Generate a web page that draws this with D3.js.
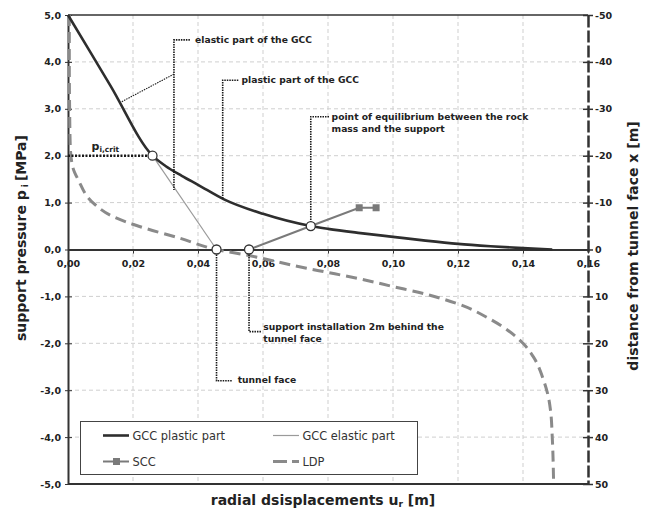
<!DOCTYPE html>
<html>
<head>
<meta charset="utf-8">
<script src="https://cdn.jsdelivr.net/npm/d3@7"></script>
<style>
  html, body { margin: 0; padding: 0; background: #fff; }
  svg { display: block; font-family: "DejaVu Sans", Verdana, sans-serif; }
</style>
</head>
<body>
<div id="chart"></div>
<script>
// GCC / SCC / LDP — convergence-confinement plot
const X_TICKS = [0, 0.02, 0.04, 0.06, 0.08, 0.10, 0.12, 0.14, 0.16];
const Y_TICKS = [5, 4, 3, 2, 1, 0, -1, -2, -3, -4, -5];
const Y2_TICKS = [-50, -40, -30, -20, -10, 0, 10, 20, 30, 40, 50];

// ground characteristic curve (thick): radial displacement [m] vs support pressure [MPa]
const gccPlasticU = [0, 0.013, 0.026, 0.030, 0.035, 0.040, 0.048, 0.060, 0.0747, 0.080, 0.090, 0.100, 0.110, 0.120, 0.130, 0.140, 0.149];
const gccPlasticP = [5.0, 3.5, 2.0, 1.78, 1.57, 1.38, 1.07, 0.76, 0.50, 0.44, 0.35, 0.27, 0.19, 0.12, 0.07, 0.03, 0.0];

// elastic continuation (thin)
const gccElasticU = [0.026, 0.0457];
const gccElasticP = [2.0, 0.0];

// support characteristic curve
const sccU = [0.0557, 0.0747, 0.0896, 0.0948];
const sccP = [0.0, 0.50, 0.89, 0.89];

// longitudinal deformation profile: displacement vs distance from face (right axis)
const ldpU = [0.0004, 0.0004, 0.0005, 0.0007, 0.0015, 0.0032, 0.0078, 0.0139, 0.022, 0.0345, 0.0457, 0.0557, 0.0734, 0.080, 0.090, 0.100, 0.110, 0.120, 0.130, 0.140, 0.1432, 0.1463, 0.1478, 0.1485, 0.1490, 0.1494];
const ldpX = [-50, -40, -30, -22, -17.5, -14.8, -9.9, -7.0, -4.9, -2.4, 0, 1.3, 4.0, 4.9, 6.3, 7.9, 9.5, 11.6, 14.9, 20.0, 22.9, 27.8, 31.4, 34.5, 40, 49.2];

// highlighted points (pi,crit, tunnel face, support installation, equilibrium)
const markU = [0.026, 0.0457, 0.0557, 0.0747];
const markP = [2.0, 0.0, 0.0, 0.50];

const COLORS = {
  axis: "#333",
  grid: "#cfcfcf",
  plastic: "#2e2e2e",
  elastic: "#9a9a9a",
  scc: "#7a7a7a",
  ldp: "#8a8a8a",
  note: "#1a1a1a",
  text: "#222",
};

const W = 651, H = 513;
const plot = { left: 68, right: 588, top: 15, bottom: 484 };

const loc = d3.formatLocale({ decimal: ",", thousands: ".", grouping: [3], currency: ["", ""], minus: "-" });
const fmtX = loc.format(".2f");
const fmtY = loc.format(".1f");

const svg = d3.select("#chart").append("svg").attr("width", W).attr("height", H);

const x = d3.scaleLinear().domain([0, 0.16]).range([plot.left, plot.right]);
const y = d3.scaleLinear().domain([-5, 5]).range([plot.bottom, plot.top]);
const y2 = d3.scaleLinear().domain([-50, 50]).range([plot.top, plot.bottom]);

// grid
const grid = svg.append("g").attr("stroke", COLORS.grid).attr("stroke-dasharray", "4,3").attr("stroke-width", 1);
X_TICKS.filter((t) => t > 0 && t < 0.16).forEach((t) => {
  grid.append("line").attr("x1", x(t)).attr("x2", x(t)).attr("y1", y(5)).attr("y2", y(-5));
});
Y_TICKS.filter((t) => Math.abs(t) !== 5 && t !== 0).forEach((t) => {
  grid.append("line").attr("x1", x(0)).attr("x2", x(0.16)).attr("y1", y(t)).attr("y2", y(t));
});

// frame top / bottom
svg.append("line").attr("x1", x(0)).attr("x2", x(0.16)).attr("y1", y(5)).attr("y2", y(5))
  .attr("stroke", COLORS.axis).attr("stroke-width", 1.5);
svg.append("line").attr("x1", x(0)).attr("x2", x(0.16)).attr("y1", y(-5)).attr("y2", y(-5))
  .attr("stroke", COLORS.axis).attr("stroke-width", 2);

// left axis
svg.append("g")
  .attr("transform", `translate(${plot.left},0)`)
  .call(d3.axisLeft(y).tickValues(Y_TICKS).tickFormat(fmtY).tickSizeInner(4).tickSizeOuter(0).tickPadding(3))
  .call((g) => g.select(".domain").attr("stroke", COLORS.axis).attr("stroke-width", 2))
  .call((g) => g.selectAll(".tick line").attr("stroke", COLORS.axis).attr("x2", 4).attr("x1", -3))
  .selectAll("text")
  .attr("font-family", "DejaVu Sans")
  .attr("font-weight", "bold")
  .attr("font-size", 9.5)
  .attr("fill", COLORS.text);

// horizontal axis at p = 0
svg.append("g")
  .attr("transform", `translate(0,${y(0)})`)
  .call(d3.axisBottom(x).tickValues(X_TICKS).tickFormat(fmtX).tickSizeInner(4).tickSizeOuter(0).tickPadding(7))
  .call((g) => g.select(".domain").attr("stroke", COLORS.axis).attr("stroke-width", 2))
  .call((g) => g.selectAll(".tick line").attr("stroke", COLORS.axis))
  .selectAll("text")
  .attr("font-family", "DejaVu Sans")
  .attr("font-weight", "bold")
  .attr("font-size", 9.5)
  .attr("fill", COLORS.text);

// right axis (dashed)
svg.append("g")
  .attr("transform", `translate(${plot.right},0)`)
  .call(d3.axisRight(y2).tickValues(Y2_TICKS).tickFormat((d) => String(d)).tickSizeInner(5).tickSizeOuter(0).tickPadding(2))
  .call((g) => g.select(".domain").attr("stroke", COLORS.axis).attr("stroke-width", 2.5).attr("stroke-dasharray", "12,3"))
  .call((g) => g.selectAll(".tick line").attr("stroke", COLORS.axis).attr("stroke-width", 1.5).attr("x1", -5).attr("x2", 5))
  .selectAll("text")
  .attr("x", 7)
  .attr("font-family", "DejaVu Sans")
  .attr("font-weight", "bold")
  .attr("font-size", 9.5)
  .attr("fill", COLORS.text);

// series
const lineP = d3.line().x((d) => x(d[0])).y((d) => y(d[1]));

svg.append("path")
  .datum(d3.zip(ldpU, ldpX))
  .attr("d", d3.line().x((d) => x(d[0])).y((d) => y2(d[1])).curve(d3.curveMonotoneY))
  .attr("fill", "none")
  .attr("stroke", COLORS.ldp)
  .attr("stroke-width", 3)
  .attr("stroke-dasharray", "11,6");

svg.append("path")
  .datum(d3.zip(gccElasticU, gccElasticP))
  .attr("d", lineP)
  .attr("fill", "none")
  .attr("stroke", COLORS.elastic)
  .attr("stroke-width", 1.2);

svg.append("path")
  .datum(d3.zip(gccPlasticU, gccPlasticP))
  .attr("d", lineP.curve(d3.curveMonotoneX))
  .attr("fill", "none")
  .attr("stroke", COLORS.plastic)
  .attr("stroke-width", 2.6);

const sccData = d3.zip(sccU, sccP);
svg.append("path")
  .datum(sccData)
  .attr("d", d3.line().x((d) => x(d[0])).y((d) => y(d[1])))
  .attr("fill", "none")
  .attr("stroke", COLORS.scc)
  .attr("stroke-width", 2);
svg.append("g").selectAll("rect").data(sccData).join("rect")
  .attr("x", (d) => x(d[0]) - 3.5).attr("y", (d) => y(d[1]) - 3.5)
  .attr("width", 7).attr("height", 7)
  .attr("fill", COLORS.scc);

// annotations: dotted leader lines, in data coordinates [u, p]
const notes = svg.append("g").attr("fill", "none").attr("stroke", COLORS.note);
function leader(pts, width, dash) {
  notes.append("path")
    .datum(pts)
    .attr("d", d3.line().x((d) => x(d[0])).y((d) => y(d[1])))
    .attr("stroke-width", width)
    .attr("stroke-dasharray", dash);
}
leader([[0, 2.0], [0.026, 2.0]], 2.6, "2,1.5");                       // pi,crit
leader([[0.0375, 4.47], [0.0326, 4.47], [0.0326, 1.27]], 1.6, "1.5,1"); // elastic
leader([[0.0326, 3.74], [0.0165, 3.15]], 1.1, "1.5,1");
leader([[0.0524, 3.61], [0.0476, 3.61], [0.0476, 1.07]], 1.6, "1.5,1"); // plastic
leader([[0.0803, 2.83], [0.0747, 2.83], [0.0747, 0.5]], 1.6, "1.5,1");  // equilibrium
leader([[0.0557, 0], [0.0557, -1.75], [0.0594, -1.75]], 1.6, "1.5,1");  // support installation
leader([[0.0457, 0], [0.0457, -2.80], [0.0504, -2.80]], 1.6, "1.5,1");  // tunnel face

const labels = [
  { u: 0.0391, p: 4.47, lines: ["elastic part of the GCC"] },
  { u: 0.0534, p: 3.61, lines: ["plastic part of the GCC"] },
  { u: 0.0811, p: 2.83, lines: ["point of equilibrium between the rock", "mass and the support"] },
  { u: 0.0601, p: -1.65, lines: ["support installation 2m behind the", "tunnel face"] },
  { u: 0.0522, p: -2.78, lines: ["tunnel face"] },
];
labels.forEach((l) => {
  const t = svg.append("text")
    .attr("x", x(l.u)).attr("y", y(l.p) + 3.3)
    .attr("font-family", "DejaVu Sans").attr("font-weight", "bold")
    .attr("font-size", 9.2).attr("fill", COLORS.text);
  l.lines.forEach((s, i) => t.append("tspan").attr("x", x(l.u)).attr("dy", i ? 12 : 0).text(s));
});

const pcrit = svg.append("text")
  .attr("x", x(0.0115)).attr("y", y(2.13))
  .attr("text-anchor", "middle")
  .attr("font-family", "DejaVu Sans").attr("font-weight", "bold")
  .attr("fill", COLORS.text);
pcrit.append("tspan").attr("font-size", 11).text("p");
pcrit.append("tspan").attr("font-size", 7.5).attr("dy", 2).text("i,crit");

// highlighted points
svg.append("g").selectAll("circle").data(d3.zip(markU, markP)).join("circle")
  .attr("cx", (d) => x(d[0])).attr("cy", (d) => y(d[1]))
  .attr("r", 4.5)
  .attr("fill", "#fff")
  .attr("stroke", COLORS.axis)
  .attr("stroke-width", 1.3);

// axis titles
svg.append("text")
  .attr("transform", "translate(26,238) rotate(-90)")
  .attr("text-anchor", "middle")
  .attr("font-weight", "bold").attr("font-size", 14).attr("fill", COLORS.text)
  .call((t) => {
    t.append("tspan").text("support pressure p");
    t.append("tspan").attr("font-size", 9).attr("dx", 3).attr("dy", 2).text("i");
    t.append("tspan").attr("dx", 3).attr("dy", -2).text("[MPa]");
  });

svg.append("text")
  .attr("transform", "translate(638,246) rotate(-90)")
  .attr("text-anchor", "middle")
  .attr("font-weight", "bold").attr("font-size", 14).attr("fill", COLORS.text)
  .text("distance from tunnel face x [m]");

svg.append("text")
  .attr("x", 323).attr("y", 505)
  .attr("text-anchor", "middle")
  .attr("font-weight", "bold").attr("font-size", 14).attr("fill", COLORS.text)
  .call((t) => {
    t.append("tspan").text("radial dsisplacements u");
    t.append("tspan").attr("font-size", 9).attr("dy", 2).text("r");
    t.append("tspan").attr("dy", -2).text(" [m]");
  });

// legend
const legend = svg.append("g");
legend.append("rect")
  .attr("x", 80.5).attr("y", 421.5).attr("width", 337).attr("height", 53)
  .attr("fill", "#fff").attr("stroke", "#444").attr("stroke-width", 1);
const legendItems = [
  { name: "GCC plastic part", col: 0, row: 0, stroke: COLORS.plastic, width: 2.6, dash: null, square: false },
  { name: "GCC elastic part", col: 1, row: 0, stroke: COLORS.elastic, width: 1.2, dash: null, square: false },
  { name: "SCC", col: 0, row: 1, stroke: COLORS.scc, width: 2, dash: null, square: true },
  { name: "LDP", col: 1, row: 1, stroke: COLORS.ldp, width: 3, dash: "14,5", square: false },
];
legendItems.forEach((it) => {
  const x0 = it.col ? 273 : 103;
  const yy = it.row ? 461.5 : 435.5;
  legend.append("line")
    .attr("x1", x0).attr("x2", x0 + 26).attr("y1", yy).attr("y2", yy)
    .attr("stroke", it.stroke).attr("stroke-width", it.width)
    .attr("stroke-dasharray", it.dash);
  if (it.square) {
    legend.append("rect").attr("x", x0 + 10).attr("y", yy - 3.5).attr("width", 7).attr("height", 7).attr("fill", it.stroke);
  }
  legend.append("text")
    .attr("x", x0 + 29.5).attr("y", yy + 4.2)
    .attr("font-size", 11.4).attr("fill", "#333")
    .text(it.name);
});
</script>
</body>
</html>
